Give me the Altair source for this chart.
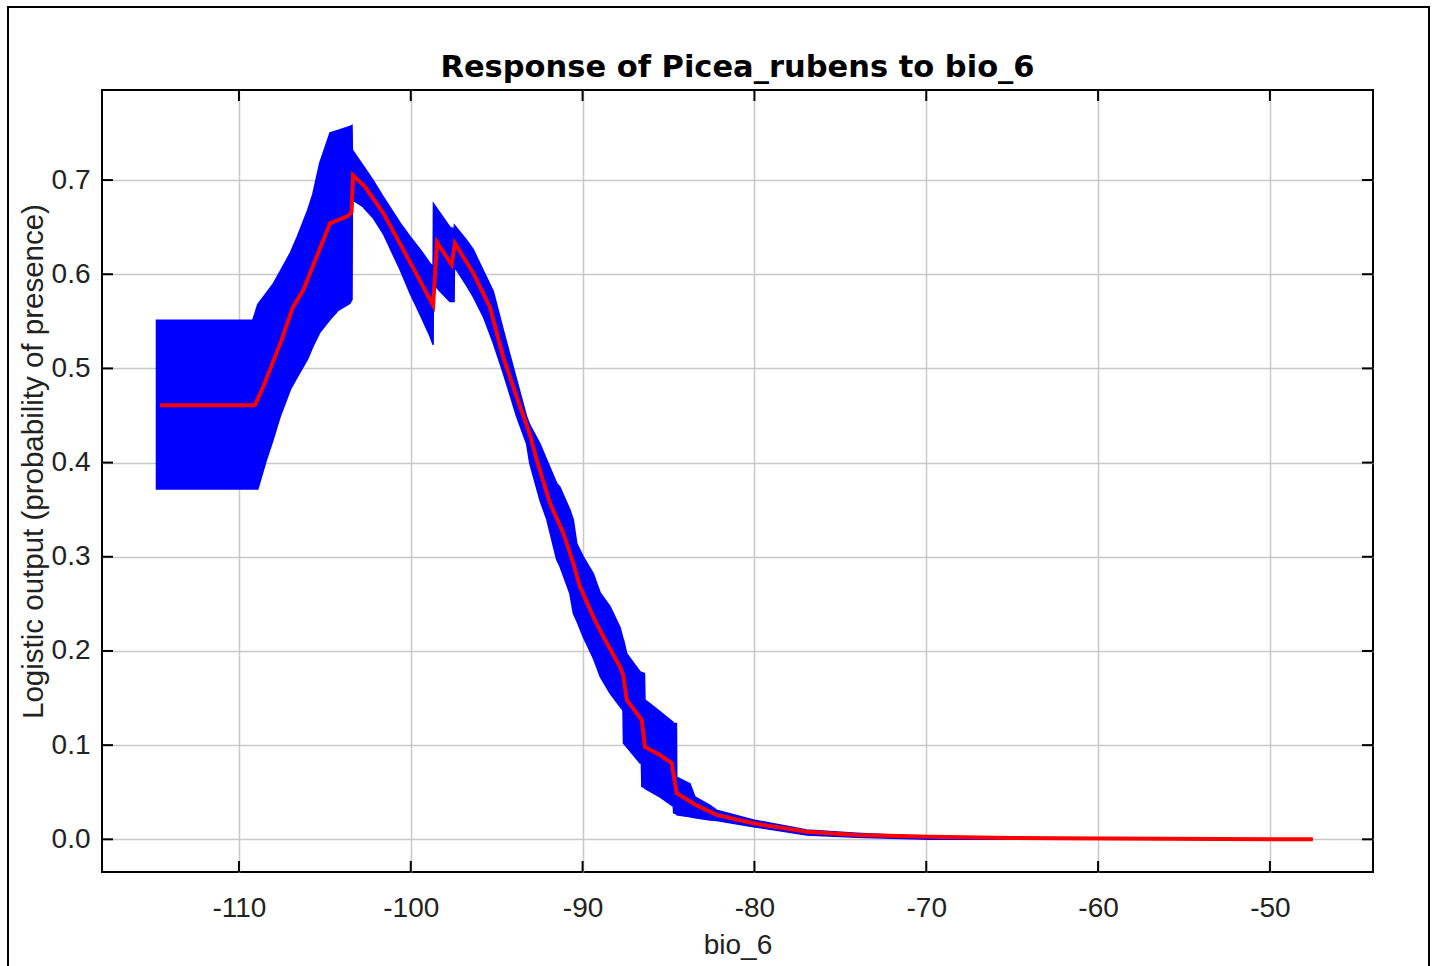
import altair as alt
import pandas as pd

# Replicate band (min/max of the response across runs)
band_x = [-114.8, -109.2, -108.9, -108.4, -108.0, -107.6, -107.0, -106.6, -106.0, -105.7,
          -105.3, -104.7, -104.2, -103.55, -103.42, -103.40, -102.8, -102.2, -101.6, -100.6,
          -100.05, -99.4, -98.9, -98.70, -98.68, -98.3, -97.72, -97.48, -97.46, -96.75,
          -96.36, -95.78, -95.2, -94.62, -93.84, -93.26, -93.07, -92.48, -92.09, -91.51,
          -91.32, -90.74, -90.54, -90.34, -89.96, -89.37, -89.18, -88.98, -88.4, -87.82,
          -87.65, -87.62, -87.43, -86.66, -86.58, -86.55, -86.40, -86.37, -85.59, -84.72,
          -84.70, -84.54, -84.52, -83.75, -83.46, -82.58, -82.2, -80.06, -76.95, -74.05,
          -69.78, -65.0, -61.0, -47.5]
band_lo = [0.372, 0.372, 0.372, 0.403, 0.425, 0.449, 0.478, 0.491, 0.510, 0.523,
           0.538, 0.552, 0.562, 0.569, 0.573, 0.679, 0.672, 0.660, 0.643, 0.604,
           0.580, 0.555, 0.535, 0.525, 0.590, 0.582, 0.571, 0.571, 0.608, 0.588,
           0.576, 0.555, 0.527, 0.495, 0.449, 0.420, 0.399, 0.360, 0.340, 0.297,
           0.290, 0.261, 0.240, 0.232, 0.215, 0.192, 0.183, 0.173, 0.155, 0.141,
           0.137, 0.102, 0.098, 0.081, 0.081, 0.056, 0.055, 0.054, 0.046, 0.035,
           0.028, 0.027, 0.026, 0.024, 0.023, 0.0205, 0.020, 0.0134, 0.0046, 0.0021,
           0.0, 0.0, 0.0, 0.0]
band_hi = [0.551, 0.551, 0.568, 0.580, 0.590, 0.603, 0.623, 0.640, 0.668, 0.685,
           0.718, 0.750, 0.753, 0.757, 0.758, 0.732, 0.716, 0.700, 0.682, 0.654,
           0.640, 0.625, 0.612, 0.608, 0.675, 0.665, 0.650, 0.648, 0.652, 0.636,
           0.626, 0.604, 0.582, 0.541, 0.488, 0.449, 0.440, 0.420, 0.403, 0.378,
           0.374, 0.350, 0.339, 0.314, 0.300, 0.282, 0.272, 0.262, 0.247, 0.225,
           0.213, 0.212, 0.197, 0.178, 0.177, 0.177, 0.176, 0.148, 0.137, 0.124,
           0.123, 0.123, 0.066, 0.059, 0.045, 0.036, 0.031, 0.0205, 0.0099, 0.0064,
           0.0028, 0.0015, 0.0008, 0.0]

# Mean response
mean_x = [-114.6, -109.07, -108.6, -107.52, -106.86, -106.26, -104.7, -103.64, -103.45, -103.36,
          -102.67, -101.6, -99.87, -98.7, -98.47, -97.62, -97.43, -96.36, -95.39, -94.62,
          -93.84, -93.07, -92.67, -91.9, -91.12, -90.54, -90.15, -89.37, -88.79, -87.82,
          -87.63, -87.43, -86.56, -86.37, -85.5, -84.82, -84.52, -83.36, -82.2, -80.06,
          -76.95, -74.05, -69.78, -65.0, -62.5, -47.5]
mean_y = [0.461, 0.461, 0.480, 0.530, 0.565, 0.583, 0.654, 0.662, 0.666, 0.705,
          0.693, 0.665, 0.607, 0.567, 0.634, 0.610, 0.633, 0.601, 0.565, 0.512,
          0.470, 0.430, 0.403, 0.357, 0.325, 0.293, 0.268, 0.236, 0.215, 0.183,
          0.174, 0.148, 0.127, 0.098, 0.0895, 0.081, 0.049, 0.036, 0.026, 0.017,
          0.0081, 0.0046, 0.0028, 0.0015, 0.0012, 0.0]

x_ticks = [-110, -100, -90, -80, -70, -60, -50]
y_ticks = [0.0, 0.1, 0.2, 0.3, 0.4, 0.5, 0.6, 0.7]

W, H = 1271, 782
X_DOM = [-117.97, -44.0]
Y_DOM = [-0.0347, 0.7956]
TICK_LEN = 11
FRAME_TOP = -83

band = pd.DataFrame({"x": band_x, "lo": band_lo, "hi": band_hi})
mean = pd.DataFrame({"i": range(len(mean_x)), "x": mean_x, "y": mean_y})
xt = pd.DataFrame({"v": x_ticks})
yt = pd.DataFrame({"v": y_ticks})

xs = alt.Scale(domain=X_DOM, nice=False, zero=False)
ys = alt.Scale(domain=Y_DOM, nice=False, zero=False)

# plain hyphen for negative tick labels
x_axis = alt.Axis(values=x_ticks, title="bio_6", grid=True, ticks=False, domain=False,
                  labelExpr="datum.value < 0 ? '-' + abs(datum.value) : '' + datum.value",
                  labelPadding=22, titlePadding=9)
y_axis = alt.Axis(values=y_ticks, format=".1f", title="Logistic output (probability of presence)",
                  grid=True, ticks=False, domain=False, labelPadding=12,
                  titleFontSize=29.5, titleAngle=270, titleBaseline="middle", titleAlign="center",
                  titleX=-69, titleY=371)

area = alt.Chart(band).mark_area(color="#0000ff", stroke="#0000ff", strokeWidth=1.5,
                                 opacity=1).encode(
    x=alt.X("x:Q", scale=xs, axis=x_axis),
    y=alt.Y("lo:Q", scale=ys, axis=y_axis),
    y2="hi:Q",
)

line = alt.Chart(mean).mark_line(color="#ff0000", strokeWidth=4, strokeCap="butt").encode(
    x=alt.X("x:Q", scale=xs),
    y=alt.Y("y:Q", scale=ys),
    order="i:Q",
)

# Inward tick marks on all four sides of the plot frame
tick_style = dict(color="#000000", strokeWidth=2)
bottom_ticks = alt.Chart(xt).mark_rule(**tick_style).encode(
    x=alt.X("v:Q", scale=xs), y=alt.value(H - TICK_LEN), y2=alt.value(H))
top_ticks = alt.Chart(xt).mark_rule(**tick_style).encode(
    x=alt.X("v:Q", scale=xs), y=alt.value(0), y2=alt.value(TICK_LEN))
left_ticks = alt.Chart(yt).mark_rule(**tick_style).encode(
    y=alt.Y("v:Q", scale=ys), x=alt.value(0), x2=alt.value(TICK_LEN))
right_ticks = alt.Chart(yt).mark_rule(**tick_style).encode(
    y=alt.Y("v:Q", scale=ys), x=alt.value(W - TICK_LEN), x2=alt.value(W))

# Outer panel frame
frame = alt.Chart(xt).mark_rect(fill=None, stroke="#000000", strokeWidth=2).encode(
    x=alt.value(-94), x2=alt.value(1327), y=alt.value(FRAME_TOP), y2=alt.value(H + 100))

# The title sits above the content bounds (which include the frame), so shift it back down
chart = alt.layer(area, line, bottom_ticks, top_ticks, left_ticks, right_ticks, frame).properties(
    width=W,
    height=H,
    background="#ffffff",
    title=alt.Title("Response of Picea_rubens to bio_6", fontSize=30.5, fontWeight="bold",
                    font="DejaVu Sans", color="#000000", anchor="middle", offset=12,
                    dy=-FRAME_TOP + 6),
    autosize=alt.AutoSizeParams(type="none"),
    padding={"left": 102, "top": 90, "right": 63, "bottom": 94},
).configure_view(
    stroke="#000000", strokeWidth=2
).configure_axis(
    gridColor="#c8c8c8", gridWidth=1.5, gridOpacity=1,
    labelFont="Liberation Sans", labelFontSize=28, labelColor="#222222",
    titleFont="Liberation Sans", titleFontSize=28, titleFontWeight="normal", titleColor="#222222",
)

chart.save("out.html", embed_options={"renderer": "svg", "actions": False})
